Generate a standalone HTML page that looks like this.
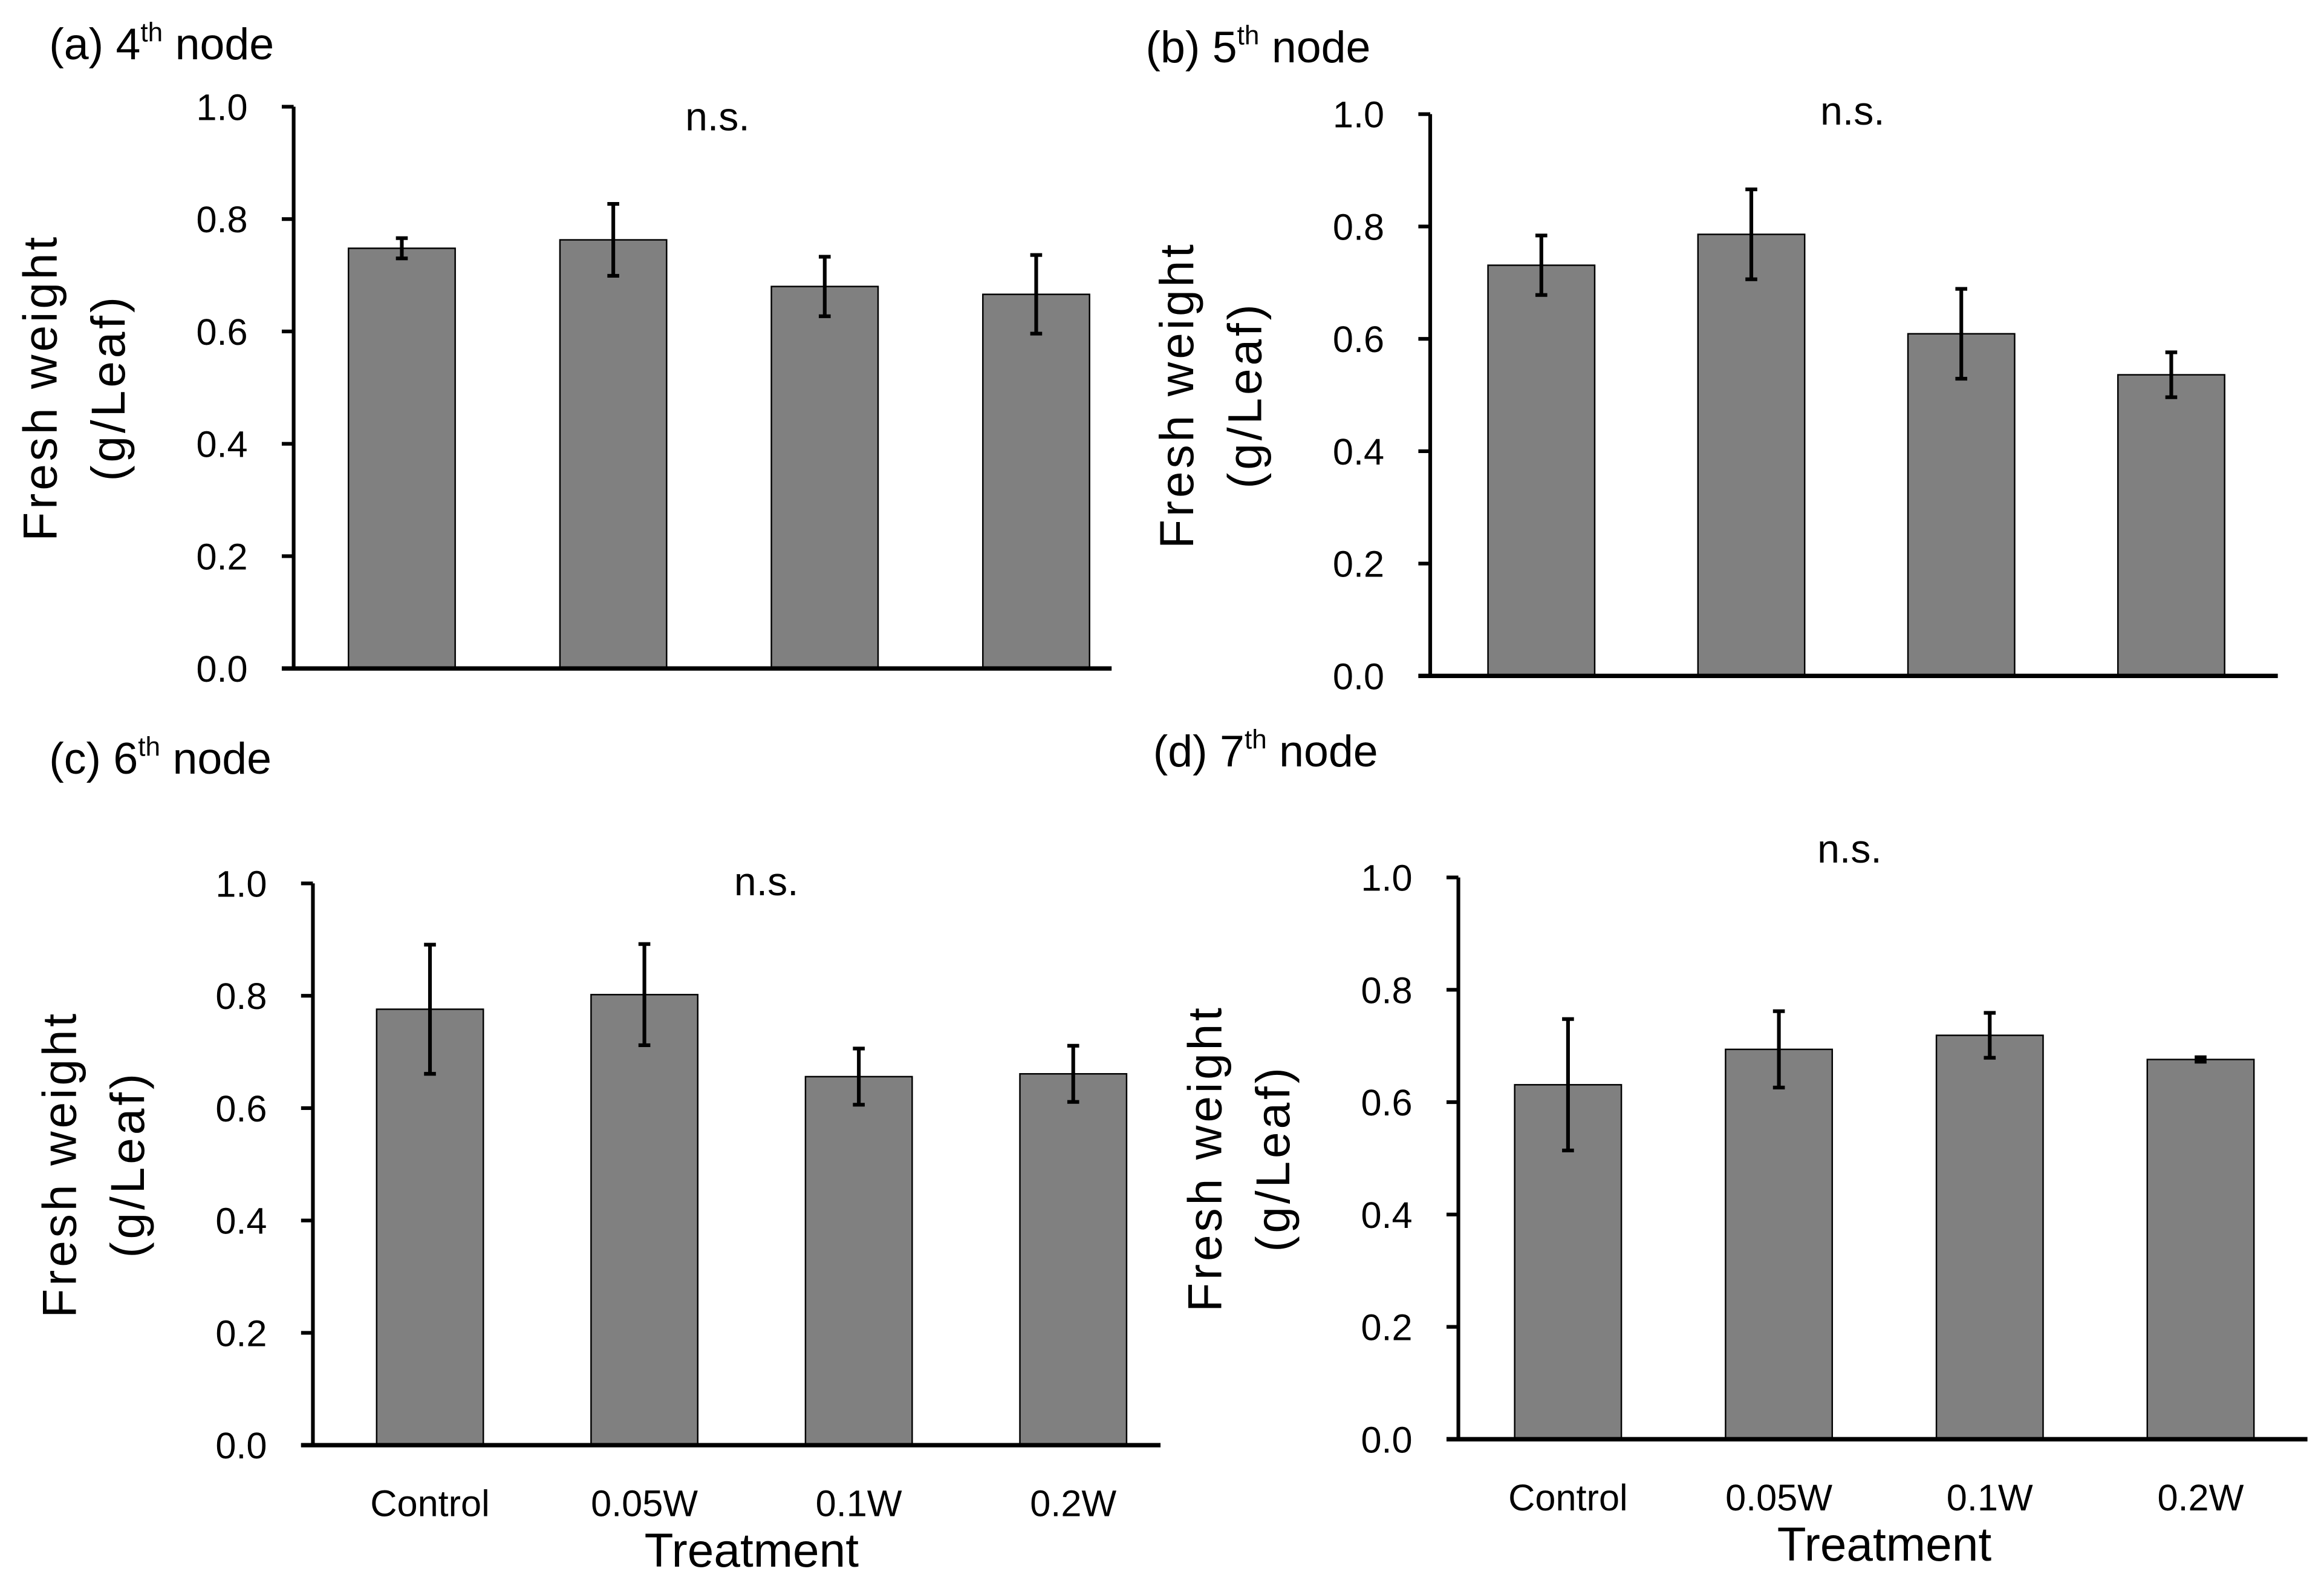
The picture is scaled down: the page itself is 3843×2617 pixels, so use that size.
<!DOCTYPE html>
<html><head><meta charset="utf-8"><style>html,body{margin:0;padding:0;background:#fff}svg{display:block}</style></head>
<body>
<svg id="fig" xmlns="http://www.w3.org/2000/svg" width="3843" height="2617" viewBox="0 0 1568 1068" font-family="'Liberation Sans', sans-serif"></svg>
<script>
const categories = ["Control", "0.05W", "0.1W", "0.2W"];
const valuesA = [0.748, 0.763, 0.680, 0.666];
const errorsA = [0.018, 0.064, 0.053, 0.070];
const valuesB = [0.731, 0.786, 0.609, 0.536];
const errorsB = [0.053, 0.080, 0.080, 0.040];
const valuesC = [0.776, 0.802, 0.656, 0.661];
const errorsC = [0.115, 0.090, 0.050, 0.050];
const valuesD = [0.631, 0.694, 0.719, 0.676];
const errorsD = [0.117, 0.068, 0.040, 0.004];
const yTicks = [0.0, 0.2, 0.4, 0.6, 0.8, 1.0];

const NS = "http://www.w3.org/2000/svg";
const svg = document.getElementById("fig");
function mk(tag, attrs, parent) {
  const e = document.createElementNS(NS, tag);
  for (const k in attrs) e.setAttribute(k, attrs[k]);
  (parent || svg).appendChild(e);
  return e;
}
const panels = [
  {id:"a", node:"4", vals:valuesA, errs:errorsA, ax:198, y0:451, y1:72, xend:750, c0:271, step:142.7, lx:33, ly:40, nsx:484, nsy:88, cats:false},
  {id:"b", node:"5", vals:valuesB, errs:errorsB, ax:965, y0:456, y1:77, xend:1537, c0:1040, step:141.7, lx:773, ly:42, nsx:1250, nsy:84, cats:false},
  {id:"c", node:"6", vals:valuesC, errs:errorsC, ax:211, y0:975, y1:596, xend:783, c0:290, step:144.7, lx:33, ly:522, nsx:517, nsy:604, cats:true},
  {id:"d", node:"7", vals:valuesD, errs:errorsD, ax:984, y0:971, y1:592, xend:1557, c0:1058, step:142.3, lx:778, ly:517, nsx:1248, nsy:582, cats:true}
];
panels.forEach(p => {
  const g = mk("g", {});
  
  
  const yS = v => p.y0 - v * (p.y0 - p.y1);
  const xS = i => p.c0 + i * p.step;
  const t = mk("text", {x:p.lx, y:p.ly, "font-size":30, fill:"#000"}, g);
  
  
  t.innerHTML = "(" + p.id + ") " + p.node + '<tspan dy="-12" font-size="18">th</tspan><tspan dy="12"> node</tspan>';
  const ns = mk("text", {x:p.nsx, y:p.nsy, "font-size":27, "text-anchor":"middle"}, g);
  
  
  ns.textContent = "n.s.";
  p.vals.forEach((v, i) => {
    const cx = xS(i);
    const r = mk("rect", {x:cx-36, y:yS(v), width:72, height:p.y0-yS(v), fill:"#808080", stroke:"#000", "stroke-width":1}, g);
    
    
    const e = p.errs[i];
    const eg = mk("g", {stroke:"#000", "stroke-width":2.5}, g);
    
    
    mk("line", {x1:cx, x2:cx, y1:yS(v+e), y2:yS(v-e)}, eg);
    mk("line", {x1:cx-4, x2:cx+4, y1:yS(v+e), y2:yS(v+e)}, eg);
    mk("line", {x1:cx-4, x2:cx+4, y1:yS(v-e), y2:yS(v-e)}, eg);
  });
  const ya = mk("line", {x1:p.ax, x2:p.ax, y1:p.y1, y2:p.y0, stroke:"#000", "stroke-width":2.5}, g);
  
  
  const xa = mk("line", {x1:p.ax-8, x2:p.xend, y1:p.y0, y2:p.y0, stroke:"#000", "stroke-width":3}, g);
  
  
  yTicks.forEach(v => {
    mk("line", {x1:p.ax-8, x2:p.ax, y1:yS(v), y2:yS(v), stroke:"#000", "stroke-width":2.5}, g);
    const tl = mk("text", {x:p.ax-31, y:yS(v)+9, "font-size":25, "text-anchor":"end"}, g);
    
    
    tl.textContent = v.toFixed(1);
  });
  const cy = (p.y0 + p.y1) / 2;
  const yt = mk("text", {transform:"translate(" + (p.ax-170) + "," + cy + ") rotate(-90)", "font-size":32, "letter-spacing":2, "text-anchor":"middle"}, g);
  
  
  yt.innerHTML = '<tspan x="0" y="10">Fresh weight</tspan><tspan x="0" y="56">(g/Leaf)</tspan>';
  if (p.cats) {
    categories.forEach((c, i) => {
      const cl = mk("text", {x:xS(i), y:p.y0+48, "font-size":25, "text-anchor":"middle"}, g);
      
      
      cl.textContent = c;
    });
    const xt = mk("text", {x:(xS(0)+xS(3))/2, y:p.y0+82, "font-size":32, "text-anchor":"middle"}, g);
    
    
    xt.textContent = "Treatment";
  }
});
</script>
</body></html>
